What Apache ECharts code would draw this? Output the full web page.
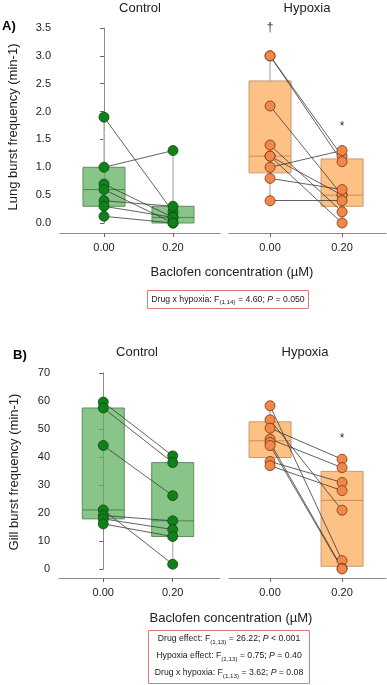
<!DOCTYPE html>
<html><head><meta charset="utf-8">
<script src="https://cdn.jsdelivr.net/npm/echarts@6/dist/echarts.min.js"></script>
<style>html,body{margin:0;padding:0;background:#fff}#c{width:387px;height:685px}</style>
</head><body><div id="c"></div>
<script>
// ---- data ----
const doseValues = [0, 0.2];
const doseTickLabels = ['0.00', '0.20'];
const lungTicks = [0, 0.5, 1.0, 1.5, 2.0, 2.5, 3.0, 3.5];
const gillTicks = [0, 10, 20, 30, 40, 50, 60, 70];

// Panel A: lung burst frequency, paired by index
const lungControl0 = [1.9, 1.0, 0.7, 0.6, 0.4, 0.3, 0.12];
const lungControl20 = [0.2, 1.3, 0.1, 0.0, 0.3, 0.1, 0.0];
const lungHypoxia0 = [3.0, 3.0, 2.1, 1.4, 1.2, 1.2, 1.0, 0.8, 0.4];
const lungHypoxia20 = [1.2, 1.1, 0.5, 0.2, 0.5, 0.0, 1.3, 0.6, 0.4];

// Panel B: gill burst frequency, paired by index
const gillControl0 = [59.6, 57.5, 44.1, 21.1, 19.1, 17.9, 16.1];
const gillControl20 = [40.4, 38.0, 26.2, 1.7, 17.2, 14.1, 11.6];
const gillHypoxia0 = [58.3, 53.3, 50.3, 46.4, 45.2, 44.1, 38.4, 36.9];
const gillHypoxia20 = [3.0, 21.0, 39.2, 36.2, 0.3, 0.0, 30.9, 28.0];

// significance marks
const lungMarkDose = [0, 0.2];
const lungMarkValue = [3.5, 1.72];
const lungMarkText = ['\u2020', '*'];
const gillMarkDose = [0.2];
const gillMarkValue = [46.5];
const gillMarkText = ['*'];

// ---- helpers ----
const FONT = "'Liberation Sans', Arial, sans-serif";
function quant(arr, p) {
  const s = arr.slice().sort((a, b) => a - b), n = s.length;
  const h = (n + 1) * p;
  if (h <= 1) return s[0];
  if (h >= n) return s[n - 1];
  const lo = Math.floor(h);
  return s[lo - 1] + (h - lo) * (s[lo] - s[lo - 1]);
}
function boxRow(x, arr) {
  const s = arr.slice().sort((a, b) => a - b);
  return [x, s[0], quant(arr, 0.25), quant(arr, 0.5), quant(arr, 0.75), s[s.length - 1]];
}
const green = {fill: 'rgba(98,178,98,0.75)', stroke: '#5f8f5f', med: '#4a874a', pt: '#11801a', ptb: '#0a4a0e'};
const orange = {fill: 'rgba(253,186,120,0.9)', stroke: '#c89a70', med: '#d08d55', pt: '#f2874a', ptb: '#7a3510'};

function panelSeries(gi, a0, a20, col, markX, markY, markT) {
  const series = [];
  series.push({
    type: 'custom', xAxisIndex: gi, yAxisIndex: gi, z: 1, silent: true,
    data: [boxRow(doseValues[0], a0), boxRow(doseValues[1], a20)],
    encode: {x: 0, y: [1, 2, 3, 4, 5]},
    renderItem: function (params, api) {
      const x = api.value(0);
      const pMin = api.coord([x, api.value(1)]), pQ1 = api.coord([x, api.value(2)]);
      const pMed = api.coord([x, api.value(3)]), pQ3 = api.coord([x, api.value(4)]);
      const pMax = api.coord([x, api.value(5)]);
      const w = 42, cx = pMed[0];
      return {type: 'group', children: [
        {type: 'line', shape: {x1: cx, y1: pMax[1], x2: cx, y2: pQ3[1]}, style: {stroke: '#bdbdbd', lineWidth: 1.5}},
        {type: 'line', shape: {x1: cx, y1: pQ1[1], x2: cx, y2: pMin[1]}, style: {stroke: '#bdbdbd', lineWidth: 1.5}},
        {type: 'rect', shape: {x: cx - w / 2, y: pQ3[1], width: w, height: pQ1[1] - pQ3[1]}, style: {fill: col.fill, stroke: col.stroke, lineWidth: 1}},
        {type: 'line', shape: {x1: cx - w / 2, y1: pMed[1], x2: cx + w / 2, y2: pMed[1]}, style: {stroke: col.med, lineWidth: 1}}
      ]};
    }
  });
  series.push({
    type: 'lines', coordinateSystem: 'cartesian2d', xAxisIndex: gi, yAxisIndex: gi, z: 2, silent: true,
    data: a0.map((v, i) => ({coords: [[doseValues[0], v], [doseValues[1], a20[i]]]})),
    lineStyle: {color: '#3a3a3a', width: 0.8, opacity: 1}
  });
  series.push({
    type: 'scatter', xAxisIndex: gi, yAxisIndex: gi, z: 3, clip: false, silent: true,
    symbolSize: 10,
    data: a0.map(v => [doseValues[0], v]).concat(a20.map(v => [doseValues[1], v])),
    itemStyle: {color: col.pt, borderColor: col.ptb, borderWidth: 0.8, opacity: 1}
  });
  if (markX && markX.length) {
    series.push({
      type: 'custom', xAxisIndex: gi, yAxisIndex: gi, z: 4, silent: true, clip: false,
      data: markX.map((x, i) => [x, markY[i]]),
      renderItem: function (params, api) {
        const p = api.coord([api.value(0), api.value(1)]);
        return {type: 'text', x: p[0], y: p[1], style: {text: markT[params.dataIndex], fontSize: 12, fontFamily: FONT, fill: '#333', align: 'center', verticalAlign: 'middle'}};
      }
    });
  }
  return series;
}

function xAxis(gi, min, max, offset) {
  return {
    type: 'value', gridIndex: gi, min: min, max: max, offset: offset,
    axisLine: {show: true, onZero: false, lineStyle: {color: '#8c8c8c', width: 1}},
    axisTick: {show: true, customValues: doseValues, length: 4, lineStyle: {color: '#666'}},
    axisLabel: {customValues: doseValues, formatter: v => doseTickLabels[doseValues.indexOf(+(+v).toFixed(2))] || (+v).toFixed(2), fontSize: 11, fontFamily: FONT, color: '#222', margin: 9},
    splitLine: {show: false}
  };
}
function yAxis(gi, ticks, show, dec) {
  const step = ticks[1] - ticks[0];
  return {
    type: 'value', gridIndex: gi, min: ticks[0], max: ticks[ticks.length - 1], interval: step,
    show: show,
    axisLine: {show: true, lineStyle: {color: '#8c8c8c', width: 1}},
    axisTick: {show: true, length: 4, lineStyle: {color: '#666'}},
    axisLabel: {formatter: v => v.toFixed(dec), fontSize: 11, fontFamily: FONT, color: '#222', margin: 9},
    splitLine: {show: false}
  };
}

const chart = echarts.init(document.getElementById('c'), null, {renderer: 'canvas'});
const txt = (t, x, y, o, rot) => ({type: 'text', x: x, y: y, rotation: rot || 0, style: Object.assign({text: t, fontSize: 13, fontFamily: FONT, fill: '#222', align: 'center', verticalAlign: 'middle'}, o || {})});
const rich = {
  a: {fontSize: 8.7, fontFamily: FONT, fill: '#222', lineHeight: 12, verticalAlign: 'middle'},
  s: {fontSize: 6.2, fontFamily: FONT, fill: '#222', lineHeight: 12, verticalAlign: 'bottom'},
  i: {fontSize: 8.7, fontFamily: FONT, fill: '#222', fontStyle: 'italic', lineHeight: 12, verticalAlign: 'middle'}
};
const statText = (t, x, y) => ({type: 'text', x: x, y: y, style: {text: t, rich: rich, align: 'center', verticalAlign: 'middle'}});

chart.setOption({
  animation: false,
  backgroundColor: '#fff',
  grid: [
    {left: 60, top: 28, width: 160, height: 195},
    {left: 229, top: 28, width: 157, height: 195},
    {left: 59, top: 373, width: 161, height: 196},
    {left: 229, top: 373, width: 157, height: 196}
  ],
  xAxis: [
    xAxis(0, -0.1275, 0.3362, 10),
    xAxis(1, -0.114, 0.322, 10),
    xAxis(2, -0.1275, 0.3362, 9),
    xAxis(3, -0.114, 0.322, 9)
  ],
  yAxis: [
    yAxis(0, lungTicks, true, 1),
    yAxis(1, lungTicks, false, 1),
    yAxis(2, gillTicks, true, 0),
    yAxis(3, gillTicks, false, 0)
  ],
  series: [].concat(
    panelSeries(0, lungControl0, lungControl20, green),
    panelSeries(1, lungHypoxia0, lungHypoxia20, orange, lungMarkDose, lungMarkValue, lungMarkText),
    panelSeries(2, gillControl0, gillControl20, green),
    panelSeries(3, gillHypoxia0, gillHypoxia20, orange, gillMarkDose, gillMarkValue, gillMarkText)
  ),
  graphic: [
    txt('Control', 140, 8),
    txt('Hypoxia', 307, 8),
    txt('A)', 2, 26, {align: 'left', fontWeight: 'bold', fill: '#000'}),
    txt('Lung burst frequency (min-1)', 13, 127, {}, Math.PI / 2),
    txt('Baclofen concentration (\u00b5M)', 232, 272),
    {type: 'rect', shape: {x: 147.5, y: 290.5, width: 161, height: 18}, style: {fill: 'none', stroke: '#e07a7a', lineWidth: 1}},
    statText('{a|Drug x hypoxia: F}{s|(1,14)}{a| = 4.60; }{i|P}{a| = 0.050}', 228, 299.5),

    txt('Control', 137, 352),
    txt('Hypoxia', 305, 352),
    txt('B)', 13, 355, {align: 'left', fontWeight: 'bold', fill: '#000'}),
    txt('Gill burst frequency (min-1)', 14, 472, {}, Math.PI / 2),
    txt('Baclofen concentration (\u00b5M)', 231, 618),
    {type: 'rect', shape: {x: 148.5, y: 630.5, width: 161, height: 53}, style: {fill: 'none', stroke: '#e07a7a', lineWidth: 1}},
    statText('{a|Drug effect: F}{s|(1,13)}{a| = 26.22; }{i|P}{a| < 0.001}', 229, 639),
    statText('{a|Hypoxia effect: F}{s|(1,13)}{a| = 0.75; }{i|P}{a| = 0.40}', 229, 656),
    statText('{a|Drug x hypoxia: F}{s|(1,13)}{a| = 3.62; }{i|P}{a| = 0.08}', 229, 673)
  ]
});
</script></body></html>
